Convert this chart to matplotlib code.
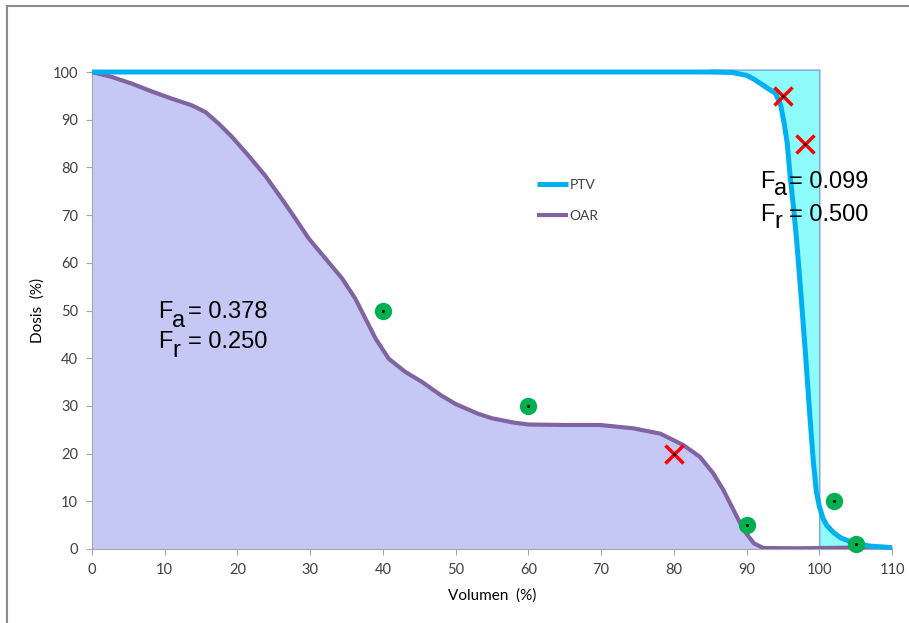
import matplotlib
matplotlib.use('Agg')
import matplotlib.pyplot as plt
from matplotlib.lines import Line2D

# Datos
vol_oar = [0, 2.75, 5.5, 8.25, 11, 13.75, 15.6, 17.4, 19.25, 21.5, 23.8, 26.1, 27.95, 29.8,
           32.1, 34.4, 36.2, 37.6, 39.0, 40.8, 43.1, 45.4, 48, 50, 53, 55, 58, 60, 65, 69.85,
           74.4, 78.1, 81.3, 83.6, 85.4, 86.8, 88.2, 89.6, 91.0, 92.3, 97.3, 100, 105, 110]
dosis_oar = [100, 98.95, 97.55, 95.9, 94.4, 93.0, 91.6, 89.2, 86.4, 82.5, 78.3, 73.4, 69.3,
             65.1, 60.9, 56.7, 52.5, 48.3, 44.1, 39.9, 37.1, 35.0, 32.2, 30.4, 28.4, 27.4,
             26.5, 26.1, 26.0, 26.0, 25.3, 24.2, 21.8, 19.3, 15.9, 12.4, 8.2, 4.0, 1.2, 0.2,
             0.15, 0.2, 0.3, 0.3]

vol_ptv = [0, 20, 40, 60, 80, 85, 88, 90, 91, 92.5, 94, 94.7, 95.2, 95.6, 96.0, 96.5, 96.9,
           97.5, 98.1, 98.7, 99.2, 99.6, 100, 100.5, 101, 102, 103, 104, 105, 107, 110]
dosis_ptv = [100, 100, 100, 100, 100, 100, 99.9, 99.3, 98.5, 97, 95.5, 93, 89, 85, 78, 71,
             64.5, 53, 41, 28, 18, 12, 9, 6.5, 5, 3.4, 2.3, 1.7, 1.2, 0.6, 0.3]

# puntos de control
ok_x = [40, 60, 90, 102, 105]
ok_y = [50, 30, 5, 10, 1]
fallo_x = [95, 98, 80]
fallo_y = [95, 85, 20]

c_ptv = '#00b0f0'
c_oar = '#8064a2'

plt.rcParams['font.family'] = ['Lato', 'DejaVu Sans']

fig = plt.figure(figsize=(9.09, 6.23), dpi=100)
ax = fig.add_axes([92 / 909, 1 - 549 / 623, 800 / 909, (549 - 72) / 623])

# marco de la figura
fig.add_artist(Line2D([7 / 909, 7 / 909], [0, 1 - 6 / 623], transform=fig.transFigure,
                      color='#8c8c8c', lw=1.5))
fig.add_artist(Line2D([7 / 909, 1], [1 - 6 / 623, 1 - 6 / 623], transform=fig.transFigure,
                      color='#8c8c8c', lw=1.5))

# relleno OAR
ax.fill_between(vol_oar, dosis_oar, 0, color='#c5c8f4', lw=0, zorder=1)

# relleno PTV (zona entre curva y escalón ideal)
xa = [v for v in vol_ptv if 84 <= v <= 100]
ya = [d for v, d in zip(vol_ptv, dosis_ptv) if 84 <= v <= 100]
ax.fill_between(xa, ya, 100.5, color='#8ffcfc', edgecolor='#7f9fdf', lw=1, zorder=1,
                clip_on=False)
xb = [v for v in vol_ptv if v >= 100]
yb = [d for v, d in zip(vol_ptv, dosis_ptv) if v >= 100]
ax.fill_between(xb, yb, 0, color='#8ffcfc', edgecolor='#7f9fdf', lw=1, zorder=1)

ax.plot(vol_oar, dosis_oar, color=c_oar, lw=3, label='OAR', zorder=3,
        solid_joinstyle='round', solid_capstyle='butt')
ax.plot(vol_ptv, dosis_ptv, color=c_ptv, lw=3.6, label='PTV', zorder=4,
        solid_joinstyle='round', solid_capstyle='butt', clip_on=False)

ax.plot(ok_x, ok_y, 'o', color='#00b050', ms=12.5, mew=0, zorder=6, clip_on=False)
ax.plot(ok_x, ok_y, 'o', color='black', ms=2.2, mew=0, zorder=7, clip_on=False)
ax.plot(fallo_x, fallo_y, 'x', color='#ff0000', ms=13, mew=2.5, zorder=6)
ax.plot(fallo_x, fallo_y, 'o', color='black', ms=2.2, mew=0, zorder=7)

# textos con subíndice
tf = dict(family=['Liberation Sans', 'DejaVu Sans'], fontsize=17, color='black', zorder=8)
ax.text(9.07, 48.4, 'F', **tf)
ax.text(11.0, 46.5, 'a', **tf)
ax.text(13.2, 48.4, '= 0.378', **tf)
ax.text(9.07, 42.1, 'F', **tf)
ax.text(11.0, 40.25, 'r', **tf)
ax.text(13.2, 42.1, '= 0.250', **tf)

ax.text(91.85, 75.7, 'F', **tf)
ax.text(93.8, 74.2, 'a', **tf)
ax.text(95.9, 75.7, '= 0.099', **tf)
ax.text(91.85, 68.8, 'F', **tf)
ax.text(93.8, 67.3, 'r', **tf)
ax.text(95.9, 68.8, '= 0.500', **tf)

ax.set_xlim(0, 110)
ax.set_ylim(0, 100)
ax.set_xticks(range(0, 111, 10))
ax.set_yticks(range(0, 101, 10))
ax.tick_params(direction='out', length=4, color='#a6a6a6', labelsize=10.5,
               labelcolor='#404040', pad=6)
for s in ['top', 'right']:
    ax.spines[s].set_visible(False)
for s in ['left', 'bottom']:
    ax.spines[s].set_color('#a6a6a6')
    ax.spines[s].set_linewidth(0.8)

ax.set_xlabel('Volumen  (%)', fontsize=11, color='black', labelpad=8)
ax.set_ylabel('Dosis  (%)', fontsize=11, color='black', labelpad=6)

handles, labels = ax.get_legend_handles_labels()
leg = fig.legend(handles[::-1], labels[::-1], loc='upper left',
                 bbox_to_anchor=(537 / 909, 1 - 179 / 623), frameon=False, fontsize=10,
                 handlelength=2.2, handletextpad=0.15, labelspacing=1.35, borderpad=0,
                 borderaxespad=0)
for t in leg.get_texts():
    t.set_color('#404040')

plt.savefig('out.png', dpi=100)
